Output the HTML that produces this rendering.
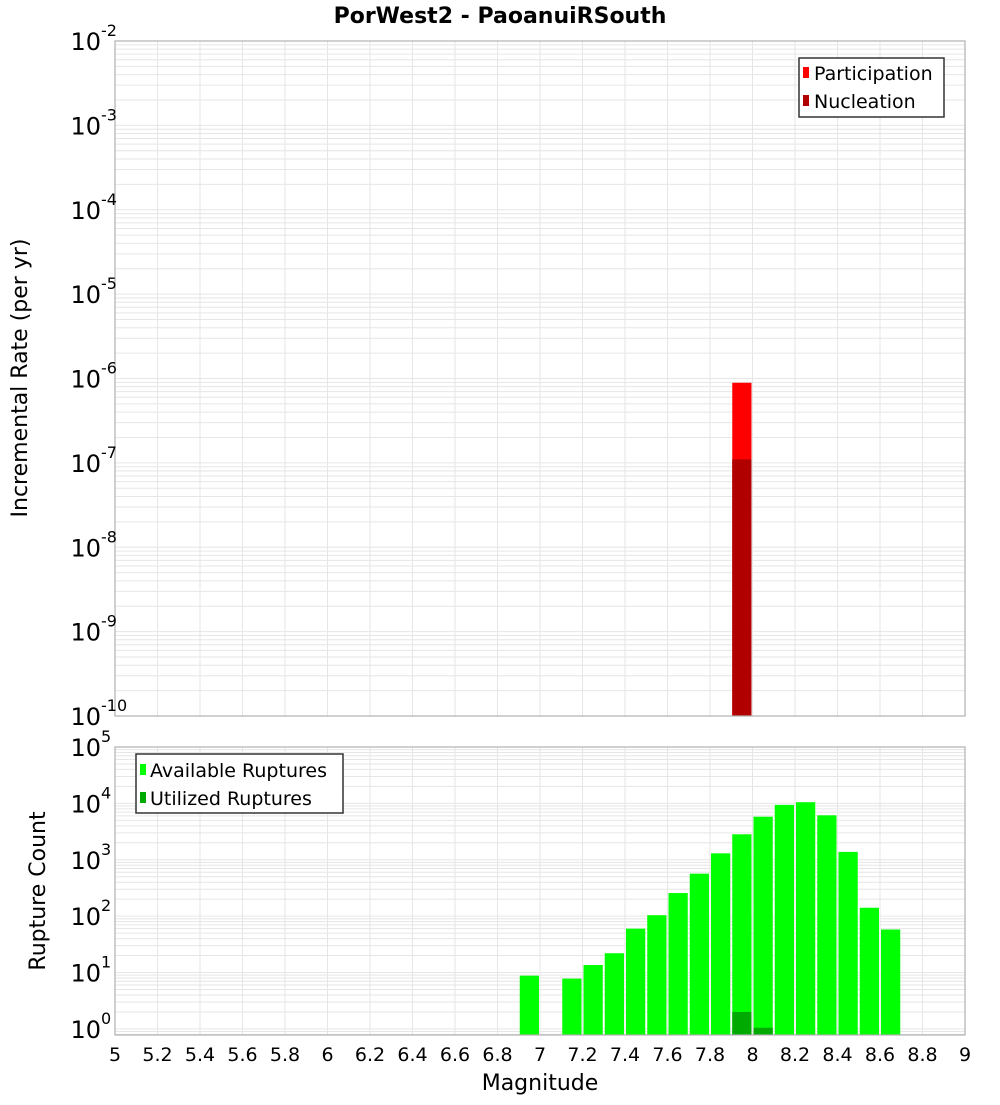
<!DOCTYPE html>
<html><head><meta charset="utf-8"><style>
body{margin:0;background:#fff;}
svg text{font-family:"DejaVu Sans","Liberation Sans",sans-serif;}
</style></head><body>
<svg id="chart" width="1000" height="1100" xmlns="http://www.w3.org/2000/svg">
<text x="500" y="23" text-anchor="middle" font-size="22" font-weight="bold">PorWest2 - PaoanuiRSouth</text>
<g id="top"></g>
<g id="bot"></g>
<text transform="translate(27,378) rotate(-90)" text-anchor="middle" font-size="22">Incremental Rate (per yr)</text>
<text transform="translate(45,891) rotate(-90)" text-anchor="middle" font-size="22">Rupture Count</text>
<text x="540" y="1090" text-anchor="middle" font-size="22">Magnitude</text>
<g>
<rect x="799" y="58" width="145" height="59" fill="#fff" stroke="#333" stroke-width="1.5"/>
<rect x="803" y="67" width="6" height="11" fill="#ff0000"/>
<text x="814" y="80" font-size="19">Participation</text>
<rect x="803" y="95" width="6" height="11" fill="#b00000"/>
<text x="814" y="108" font-size="19">Nucleation</text>
</g>
<g>
<rect x="136" y="754" width="207" height="59" fill="#fff" stroke="#333" stroke-width="1.5"/>
<rect x="140" y="764" width="6" height="11" fill="#00ff00"/>
<text x="150" y="777" font-size="19">Available Ruptures</text>
<rect x="140" y="792" width="6" height="11" fill="#00aa00"/>
<text x="150" y="805" font-size="19">Utilized Ruptures</text>
</g>
</svg>
<script>
const xTicks=[5,5.2,5.4,5.6,5.8,6,6.2,6.4,6.6,6.8,7,7.2,7.4,7.6,7.8,8,8.2,8.4,8.6,8.8,9];
const topMags=[7.95];
const participation=[8.9e-7];
const nucleation=[1.1e-7];
const botMags=[6.95,7.15,7.25,7.35,7.45,7.55,7.65,7.75,7.85,7.95,8.05,8.15,8.25,8.35,8.45,8.55,8.65];
const available=[8.8,7.8,13.6,22,60,104,257,567,1300,2830,5800,9400,10500,6150,1380,141,58];
const utilMags=[7.95,8.05];
const utilized=[2.0,1.05];
const topExps=[-2,-3,-4,-5,-6,-7,-8,-9,-10];
const botExps=[5,4,3,2,1,0];

const NS='http://www.w3.org/2000/svg';
const X0=115,X1=965;
const xs=m=>X0+(m-5)/4*(X1-X0);
function mk(p,t,a){const e=document.createElementNS(NS,t);for(const k in a)e.setAttribute(k,a[k]);p.appendChild(e);return e;}
function panel(g,y0,y1,lmax,lmin,name){
  const ys=v=>y0+(lmax-Math.log10(v))/(lmax-lmin)*(y1-y0);
  for(let d=Math.floor(lmin);d<lmax;d++){for(let k=1;k<10;k++){const v=k*Math.pow(10,d);const l=Math.log10(v);if(l<lmin||l>lmax)continue;
    const ln=mk(g,'line',{x1:X0,x2:X1,y1:ys(v),y2:ys(v),stroke:'#e6e6e6','stroke-width':1});
    }}
  xTicks.forEach(t=>{const ln=mk(g,'line',{x1:xs(t),x2:xs(t),y1:y0,y2:y1,stroke:'#e6e6e6','stroke-width':1});
    });
  return ys;
}
function bar(g,m,v,ys,yb,fill,nm){const x=xs(m-0.05)+1,w=xs(m+0.05)-xs(m-0.05)-2;const y=ys(v);
  const r=mk(g,'rect',{x:x,y:y,width:w,height:yb-y,fill:fill});}
function ylabels(g,exps,ys,name){exps.forEach(e=>{const y=ys(Math.pow(10,e));
  const t=mk(g,'text',{x:101,y:y+9,'text-anchor':'end','font-size':24});t.textContent='10';
  
  const s=mk(g,'text',{x:101,y:y-5,'font-size':16});s.textContent=String(e);
  });}

const gt=document.getElementById('top');
const ysT=panel(gt,41,716,-2,-10,'top');
topMags.forEach((m,i)=>{bar(gt,m,participation[i],ysT,716,'#ff0000','bar-participation');});
topMags.forEach((m,i)=>{bar(gt,m,nucleation[i],ysT,716,'#b00000','bar-nucleation');});
mk(gt,'rect',{x:X0,y:41,width:X1-X0,height:675,fill:'none',stroke:'#b0b0b0','stroke-width':1.2});
ylabels(gt,topExps,ysT,'top-y');

const gb=document.getElementById('bot');
const LMIN=Math.log10(0.78);
const ysB=v=>747+(5-Math.log10(v))/(5-LMIN)*(1035-747);
panel(gb,747,1035,5,LMIN,'bottom');
botMags.forEach((m,i)=>bar(gb,m,available[i],ysB,1035,'#00ff00','bar-available'));
utilMags.forEach((m,i)=>bar(gb,m,utilized[i],ysB,1035,'#00aa00','bar-utilized'));
mk(gb,'rect',{x:X0,y:747,width:X1-X0,height:288,fill:'none',stroke:'#b0b0b0','stroke-width':1.2});
ylabels(gb,botExps,ysB,'bottom-y');
xTicks.forEach(t=>{const tx=mk(gb,'text',{x:xs(t),y:1061,'text-anchor':'middle','font-size':19});tx.textContent=String(t);
  });
</script>
</body></html>
